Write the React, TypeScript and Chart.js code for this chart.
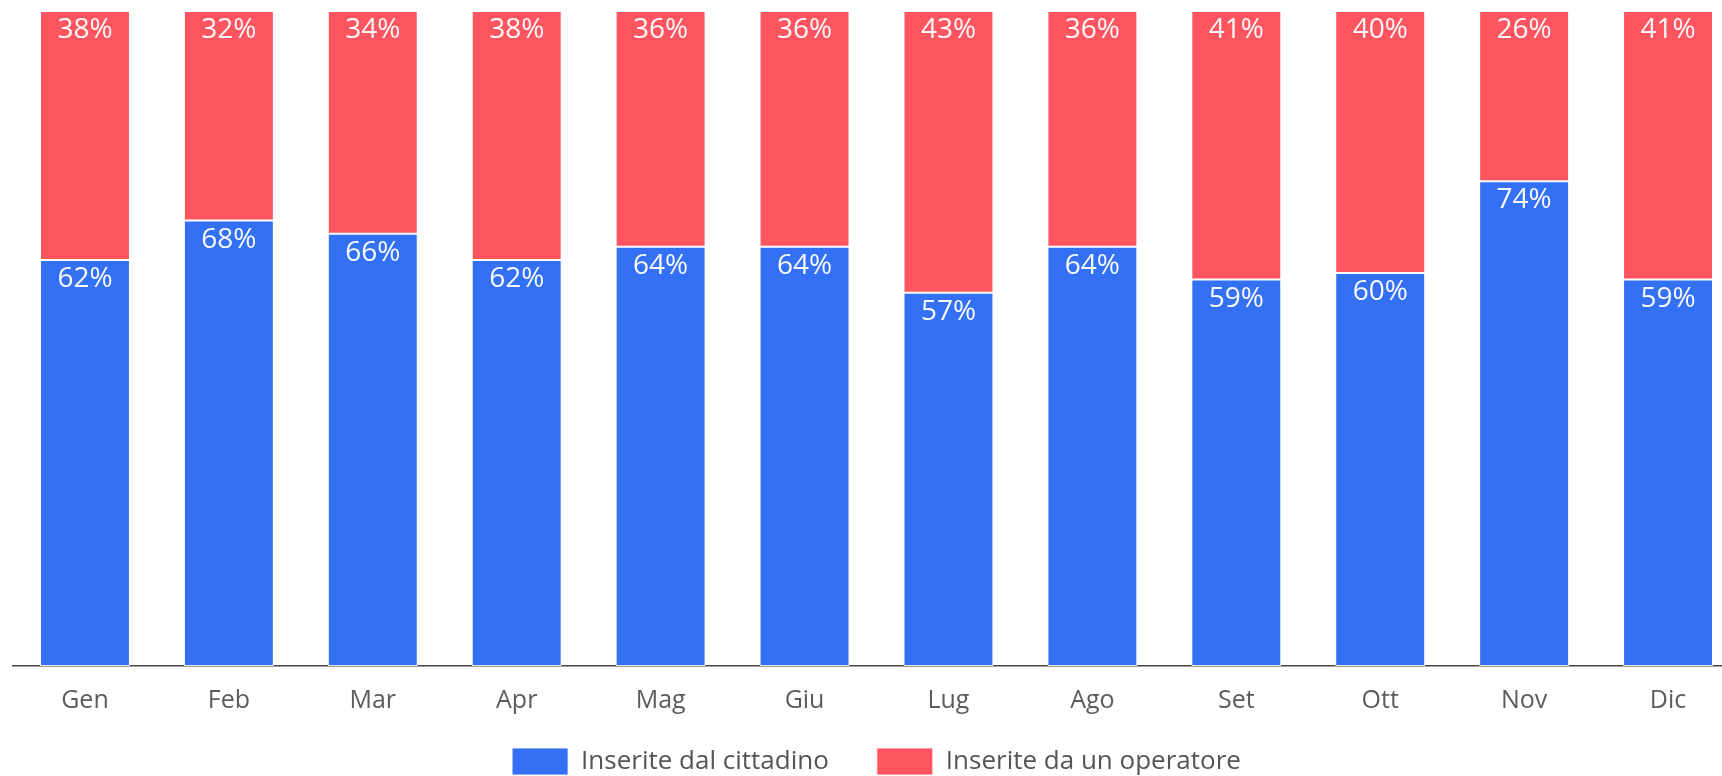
import React, { useEffect, useRef } from "react";
import { Chart, registerables } from "chart.js";

Chart.register(...registerables);

const months = ["Gen", "Feb", "Mar", "Apr", "Mag", "Giu", "Lug", "Ago", "Set", "Ott", "Nov", "Dic"];
const citizenValues = [62, 68, 66, 62, 64, 64, 57, 64, 59, 60, 74, 59];
const operatorValues = [38, 32, 34, 38, 36, 36, 43, 36, 41, 40, 26, 41];
const seriesNames = ["Inserite dal cittadino", "Inserite da un operatore"];
const seriesColors = ["#3370F4", "#FF5560"];

const FONT = '"Open Sans", "Noto Sans", sans-serif';

const stackLabels = {
  id: "stackLabels",
  afterDatasetsDraw(chart: any) {
    const ctx = chart.ctx;
    ctx.save();
    ctx.font = `28px ${FONT}`;
    ctx.fillStyle = "rgba(255,255,255,0.96)";
    ctx.textAlign = "center";
    ctx.textBaseline = "alphabetic";
    chart.data.datasets.forEach((ds: any, di: number) => {
      const meta = chart.getDatasetMeta(di);
      meta.data.forEach((bar: any, i: number) => {
        const p = bar.getProps(["x", "y"], true);
        ctx.fillText(`${ds.data[i]}%`, p.x, p.y + 27);
      });
    });
    ctx.restore();
  },
};

// Pull the legend up so it sits just under the tick labels.
const legendShift = {
  id: "legendShift",
  afterLayout(chart: any) {
    const lg = chart.legend;
    if (!lg) return;
    const top = chart.chartArea.bottom + 34;
    lg.top = top;
    lg.bottom = top + lg.height;
  },
};

export default function App() {
  const ref = useRef<HTMLCanvasElement | null>(null);

  useEffect(() => {
    if (!ref.current) return;
    const chart = new Chart(ref.current, {
      type: "bar",
      data: {
        labels: months,
        datasets: [
          {
            label: seriesNames[0],
            data: citizenValues,
            backgroundColor: seriesColors[0],
            borderColor: "rgba(255,255,255,0.85)",
            borderWidth: 1,
            borderSkipped: false,
            barPercentage: 0.625,
            categoryPercentage: 1,
          },
          {
            label: seriesNames[1],
            data: operatorValues,
            backgroundColor: seriesColors[1],
            borderColor: "rgba(255,255,255,0.85)",
            borderWidth: 1,
            borderSkipped: false,
            barPercentage: 0.625,
            categoryPercentage: 1,
          },
        ],
      },
      options: {
        responsive: false,
        animation: false,
        layout: { padding: { left: 13, right: 10, top: 11, bottom: 0 } },
        plugins: {
          legend: {
            position: "bottom",
            labels: {
              boxWidth: 56,
              boxHeight: 27,
              padding: 48,
              color: "#555",
              font: { family: FONT, size: 26 },
            },
          },
          tooltip: { enabled: false },
        },
        scales: {
          x: {
            stacked: true,
            grid: { display: false, drawTicks: false },
            border: { display: true, color: "#444", width: 1.5 },
            ticks: {
              color: "#5c5c5c",
              padding: 34,
              font: { family: FONT, size: 25, lineHeight: 0.04 },
              maxRotation: 0,
              autoSkip: false,
            },
            afterFit: (scale: any) => {
              scale.height = 70;
            },
          },
          y: {
            stacked: true,
            display: false,
            min: 0,
            max: 100,
          },
        },
      },
      plugins: [stackLabels, legendShift],
    });
    return () => chart.destroy();
  }, []);

  return (
    <div
      style={{
        position: "fixed",
        left: 0,
        top: 0,
        width: 1722,
        height: 776,
        overflow: "hidden",
        background: "#fff",
      }}
    >
      <canvas ref={ref} width={1750} height={821} style={{ display: "block" }} />
    </div>
  );
}
